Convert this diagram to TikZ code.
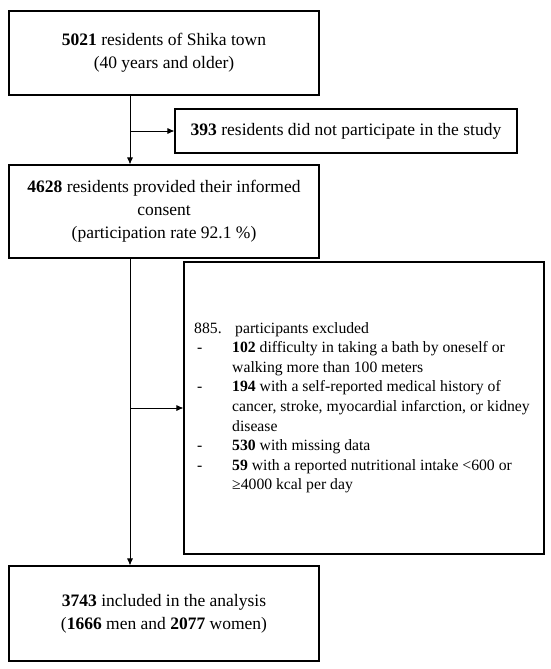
\documentclass[tikz,border=0pt]{standalone}
\usepackage{fontspec}
\setmainfont{Liberation Serif}
\usetikzlibrary{arrows.meta}

\newcommand{\exclitem}[1]{\makebox[38pt][l]{\hspace{3pt}-}#1}
\newcommand{\exclcont}[1]{\hspace*{38pt}#1}

\begin{document}
\begin{tikzpicture}[x=1pt,y=-1pt,
	box/.style={draw, line width=1.1pt, align=center, inner sep=0pt,
		font=\fontsize{17.5}{23}\selectfont},
	flow/.style={line width=0.8pt, -{Latex[length=7pt,width=6pt]}}]
	
	\useasboundingbox (0,0) rectangle (550,669);
	
	% main column
	\node[box, minimum width=310pt, minimum height=84pt] (town) at (164,53)
		{\textbf{5021} residents of Shika town\\(40 years and older)};
	\node[box, minimum width=342pt, minimum height=44pt] (nopart) at (346,131)
		{\textbf{393} residents did not participate in the study};
	\node[box, minimum width=310pt, minimum height=93pt] (consent) at (164,211.5)
		{\textbf{4628} residents provided their informed\\consent\\(participation rate 92.1 \%)};
	\node[box, minimum width=360pt, minimum height=292pt] (excl) at (364,408) {};
	\node[box, minimum width=310pt, minimum height=95pt] (final) at (164,613.5)
		{\textbf{3743} included in the analysis\\(\textbf{1666} men and \textbf{2077} women)};
	
	% exclusion list
	\node[anchor=north west, inner sep=0pt, align=left,
		font=\fontsize{15.7}{19.6}\selectfont] (excltxt) at (194,322)
		{\makebox[41pt][l]{885.}participants excluded\\
		\exclitem{\textbf{102} difficulty in taking a bath by oneself or}\\
		\exclcont{walking more than 100 meters}\\
		\exclitem{\textbf{194} with a self-reported medical history of}\\
		\exclcont{cancer, stroke, myocardial infarction, or kidney}\\
		\exclcont{disease}\\
		\exclitem{\textbf{530} with missing data}\\
		\exclitem{\textbf{59} with a reported nutritional intake <600 or}\\
		\exclcont{≥4000 kcal per day}};
	
	% connectors
	\coordinate (spine) at (130,0);
	\draw[flow] (town.south -| spine) -- (consent.north -| spine);
	\draw[flow] (spine |- nopart) -- (nopart.west);
	\draw[flow] (consent.south -| spine) -- (final.north -| spine);
	\draw[flow] (spine |- excl) -- (excl.west);
	
\end{tikzpicture}
\end{document}
